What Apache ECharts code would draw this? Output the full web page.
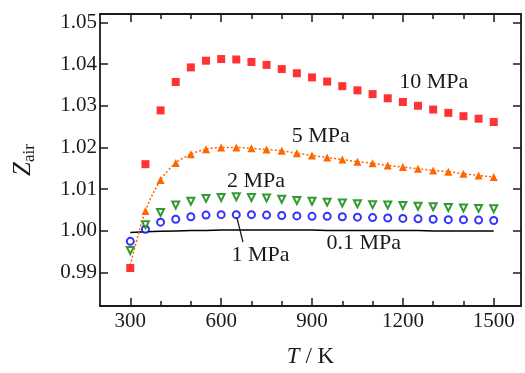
<!DOCTYPE html>
<html>
<head>
<meta charset="utf-8">
<script src="https://cdn.jsdelivr.net/npm/echarts@6/dist/echarts.min.js"></script>
<style>
  html, body { margin: 0; padding: 0; background: #fff; }
  #chart { width: 525px; height: 373px; }
</style>
</head>
<body>
<div id="chart"></div>
<script>
// temperatures, K
const temps = [300, 350, 400, 450, 500, 550, 600, 650, 700, 750, 800, 850, 900,
  950, 1000, 1050, 1100, 1150, 1200, 1250, 1300, 1350, 1400, 1450, 1500];

// compressibility factor of air
const z10 = [0.9911, 1.0160, 1.0289, 1.0357, 1.0392, 1.0408, 1.0412, 1.0411, 1.0405,
  1.0398, 1.0388, 1.0378, 1.0368, 1.0358, 1.0347, 1.0337, 1.0328, 1.0318, 1.0309,
  1.0300, 1.0291, 1.0283, 1.0275, 1.0269, 1.0261];
const z5 = [0.9918, 1.0048, 1.0122, 1.0163, 1.0184, 1.0196, 1.0200, 1.0200, 1.0198,
  1.0195, 1.0192, 1.0186, 1.0181, 1.0176, 1.0171, 1.0166, 1.0162, 1.0157, 1.0153,
  1.0149, 1.0145, 1.0142, 1.0137, 1.0133, 1.0129];
const z2 = [0.9953, 1.0015, 1.0044, 1.0062, 1.0071, 1.0078, 1.0080, 1.0082, 1.0080,
  1.0079, 1.0076, 1.0073, 1.0071, 1.0069, 1.0067, 1.0065, 1.0063, 1.0062, 1.0061,
  1.0059, 1.0058, 1.0056, 1.0055, 1.0054, 1.0053];
const z1 = [0.9975, 1.0004, 1.0021, 1.0028, 1.0034, 1.0038, 1.0039, 1.0039, 1.0039,
  1.0038, 1.0037, 1.0036, 1.0035, 1.0035, 1.0034, 1.0033, 1.0032, 1.0031, 1.0030,
  1.0029, 1.0028, 1.0027, 1.0027, 1.0026, 1.0025];
const z01 = [0.9996, 0.9998, 0.9999, 1.0000, 1.0001, 1.0001, 1.0002, 1.0002, 1.0002,
  1.0002, 1.0002, 1.0002, 1.0002, 1.0001, 1.0001, 1.0001, 1.0001, 1.0001, 1.0001,
  1.0001, 1.0000, 1.0000, 1.0000, 1.0000, 1.0000];

const xMajor = [300, 600, 900, 1200, 1500];
const xMinor = [400, 500, 700, 800, 1000, 1100, 1300, 1400];
const yTicks = [0.99, 1.00, 1.01, 1.02, 1.03, 1.04, 1.05];

// curve labels: [text, T, Z]
const curveLabels = [
  ["10 MPa", 1302, 1.0356],
  ["5 MPa", 929, 1.0226],
  ["2 MPa", 715, 1.0120],
  ["1 MPa", 730, 0.9942],
  ["0.1 MPa", 1071, 0.9970]
];
const pointer1 = [[652, 1.0032], [672, 0.9973]];

const font = "Liberation Serif";
const ink = "#1a1a1a";
const pair = (arr) => temps.map((t, i) => [t, arr[i]]);

const xBase = {
  type: "value", min: 200, max: 1590, splitLine: { show: false },
  axisLine: { show: true, onZero: false, lineStyle: { color: ink, width: 1.8 } }
};
const yBase = {
  type: "value", min: 0.982, max: 1.052, splitLine: { show: false },
  axisLine: { show: true, onZero: false, lineStyle: { color: ink, width: 1.8 } }
};
const tickStyle = { color: ink, width: 1.5 };

const chart = echarts.init(document.getElementById("chart"));
chart.setOption({
  animation: false,
  backgroundColor: "#fff",
  grid: { left: 100, right: 4, top: 14, bottom: 56 },
  xAxis: [
    Object.assign({}, xBase, {
      position: "bottom",
      name: "{i|T} / K", nameLocation: "middle", nameGap: 39,
      nameTextStyle: {
        fontFamily: font, fontSize: 23, color: ink,
        rich: { i: { fontFamily: font, fontSize: 23, fontStyle: "italic", color: ink } }
      },
      axisTick: { inside: true, length: 8, customValues: xMajor, lineStyle: tickStyle },
      axisLabel: {
        customValues: xMajor, margin: 5, fontFamily: font, fontSize: 21, color: ink,
        formatter: (v) => String(v)
      }
    }),
    Object.assign({}, xBase, {
      position: "bottom", axisLine: { show: false },
      axisTick: { inside: true, length: 5, customValues: xMinor, lineStyle: tickStyle },
      axisLabel: { show: false }
    }),
    Object.assign({}, xBase, {
      position: "top",
      axisTick: { inside: true, length: 8, customValues: xMajor, lineStyle: tickStyle },
      axisLabel: { show: false }
    }),
    Object.assign({}, xBase, {
      position: "top", axisLine: { show: false },
      axisTick: { inside: true, length: 5, customValues: xMinor, lineStyle: tickStyle },
      axisLabel: { show: false }
    })
  ],
  yAxis: [
    Object.assign({}, yBase, {
      position: "left",
      name: "{z|Z}{s|air}", nameLocation: "middle", nameGap: 62, nameRotate: 90,
      nameTextStyle: {
        rich: {
          z: { fontFamily: font, fontSize: 25, fontStyle: "italic", color: ink, lineHeight: 30, verticalAlign: "middle" },
          s: { fontFamily: font, fontSize: 17, color: ink, lineHeight: 30, verticalAlign: "bottom", padding: [12, 0, 0, 0] }
        }
      },
      axisTick: { inside: true, length: 8, customValues: yTicks, lineStyle: tickStyle },
      axisLabel: {
        customValues: yTicks, margin: 3, fontFamily: font, fontSize: 21, color: ink,
        formatter: (v) => v.toFixed(2)
      }
    }),
    Object.assign({}, yBase, {
      position: "right",
      axisTick: { inside: true, length: 8, customValues: yTicks, lineStyle: tickStyle },
      axisLabel: { show: false }
    })
  ],
  series: [
    {
      name: "0.1 MPa", type: "line", data: pair(z01), symbol: "none",
      lineStyle: { color: "#000", width: 1.5 }, z: 2
    },
    {
      name: "1 MPa", type: "scatter", data: pair(z1), symbol: "emptyCircle", symbolSize: 7,
      itemStyle: { color: "#0000ff", borderColor: "#0000ff", borderWidth: 1.5 }, z: 3
    },
    {
      name: "2 MPa", type: "scatter", data: pair(z2), symbol: "emptyTriangle", symbolSize: 7,
      symbolRotate: 180,
      itemStyle: { color: "#008000", borderColor: "#008000", borderWidth: 1.5 }, z: 4
    },
    {
      name: "5 MPa", type: "line", smooth: 0.3,
      data: pair(z5).map((p, i) => i === 0 ? { value: p, symbol: "none" } : p),
      symbol: "triangle", symbolSize: 8, showAllSymbol: true,
      itemStyle: { color: "#ff6600" },
      lineStyle: { color: "#ff6600", width: 1.5, type: [2, 2] }, z: 5
    },
    {
      name: "10 MPa", type: "scatter", data: pair(z10), symbol: "rect", symbolSize: 8,
      itemStyle: { color: "#ff0000" }, z: 6
    }
  ]
});

// curve labels and the 1 MPa pointer, placed through the axis scales
const toPx = (p) => chart.convertToPixel({ xAxisIndex: 0, yAxisIndex: 0 }, p);
const graphics = curveLabels.map(([text, t, z]) => {
  const [x, y] = toPx([t, z]);
  return {
    type: "text", x: x, y: y, z: 10,
    style: { text: text, font: "22px '" + font + "'", fill: ink, align: "center", verticalAlign: "middle" }
  };
});
const a = toPx(pointer1[0]), b = toPx(pointer1[1]);
graphics.push({
  type: "line", z: 10,
  shape: { x1: a[0], y1: a[1], x2: b[0], y2: b[1] },
  style: { stroke: ink, lineWidth: 1.3 }
});
chart.setOption({ graphic: graphics });
</script>
</body>
</html>
